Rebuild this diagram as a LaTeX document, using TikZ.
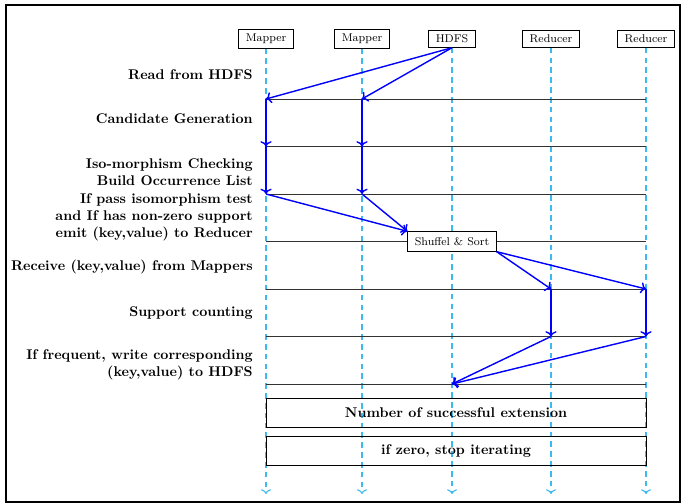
\documentclass[tikz,border=0pt]{standalone}
\usetikzlibrary{calc, arrows.meta}
\definecolor{lifeblue}{RGB}{60,185,240}
\tikzset{
  hdr/.style={draw, semithick, fill=white, font=\footnotesize, inner xsep=5pt, inner ysep=3pt},
  life/.style={lifeblue, thick, dash pattern=on 4pt off 3pt, ->},
  msg/.style={blue, line width=1pt, ->},
  rowline/.style={black!80, semithick},
  lbl/.style={anchor=east, align=right, font=\bfseries, inner sep=0pt},
  bar/.style={draw, semithick, minimum width=9.5cm, minimum height=0.725cm, font=\bfseries}
}
\begin{document}
\begin{tikzpicture}[x=0.025cm, y=-0.025cm]
  \useasboundingbox (0,0) rectangle (681,504);
  \draw[thick] (6,5) rectangle (680,502);
  % heads
  \node[hdr] (m1) at (266,39) {Mapper};
  \node[hdr] (m2) at (362,39) {Mapper};
  \node[hdr] (hdfs) at (452,39) {HDFS};
  \node[hdr] (r1) at (551,39) {Reducer};
  \node[hdr] (r2) at (646,39) {Reducer};
  % lifelines
  \foreach \n in {m1,m2,hdfs,r1,r2}{
    \coordinate (\n-end) at (\n |- 0,494);
    \draw[life] (\n.south) -- (\n-end);
    \foreach \r in {1,...,7}{
      \pgfmathsetmacro\yy{51.5+47.5*\r}
      \coordinate (\n-\r) at (\n |- 0,\yy);
    }
  }
  \foreach \r in {1,...,7}{
    \draw[rowline] (m1-\r) -- (r2-\r);
  }
  \node[hdr, inner ysep=4pt] (shuf) at (hdfs-4) {Shuffel \& Sort};
  % steps
  \node[lbl] (l1) at (253,75) {Read from HDFS};
  \node[lbl] (l2) at (253,119) {Candidate Generation};
  \node[lbl] (l3) at (253,172) {Iso-morphism Checking\\Build Occurrence List};
  \node[lbl] (l4) at (253,217) {If pass isomorphism test\\and If has non-zero support\\emit (key,value) to Reducer};
  \node[lbl] (l5) at (253,267) {Receive (key,value) from Mappers};
  \node[lbl] (l6) at (253,313) {Support counting};
  \node[lbl] (l7) at (253,365) {If frequent, write corresponding\\(key,value) to HDFS};
  % messages
  \draw[msg] (hdfs.south) -- (m1-1);
  \draw[msg] (hdfs.south) -- (m2-1);
  \foreach \n in {m1,m2}{
    \draw[msg] (\n-1) -- (\n-2);
    \draw[msg] (\n-2) -- (\n-3);
    \draw[msg] (\n-3) -- (shuf.north west);
  }
  \foreach \n in {r1,r2}{
    \draw[msg] (shuf.south east) -- (\n-5);
    \draw[msg] (\n-5) -- (\n-6);
    \draw[msg] (\n-6) -- (hdfs-7);
  }
  \node[bar] (ext) at (456,412.5) {Number of successful extension};
  \node[bar] (stop) at (456,450.5) {if zero, stop iterating};
\end{tikzpicture}
\end{document}
